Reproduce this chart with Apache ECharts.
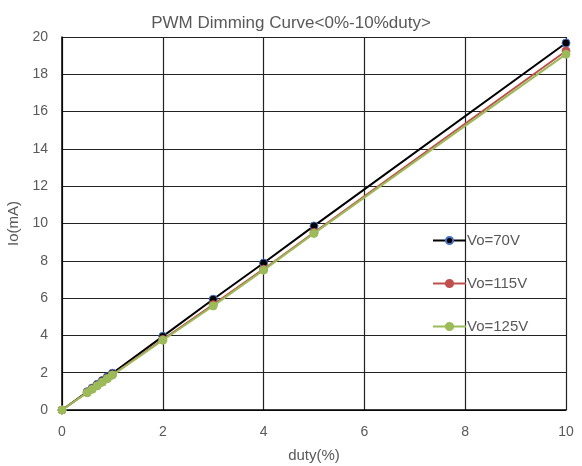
<!DOCTYPE html>
<html><head><meta charset="utf-8">
<script src="https://cdn.jsdelivr.net/npm/echarts@6/dist/echarts.min.js"></script>
<style>html,body{margin:0;padding:0;background:#fff}#c{width:582px;height:466px}</style>
</head><body><div id="c"></div>
<script>
const duty = [0, 0.5, 0.6, 0.7, 0.8, 0.9, 1, 2, 3, 4, 5, 10];
const vo70 = [0, 0.98, 1.18, 1.38, 1.58, 1.78, 1.97, 3.95, 5.94, 7.88, 9.87, 19.68];
const vo115 = [0, 0.94, 1.13, 1.32, 1.51, 1.7, 1.89, 3.78, 5.65, 7.55, 9.52, 19.25];
const vo125 = [0, 0.93, 1.11, 1.3, 1.49, 1.68, 1.87, 3.74, 5.58, 7.5, 9.47, 19.08];
const names = ['Vo=70V', 'Vo=115V', 'Vo=125V'];
const xTicks = [0, 2, 4, 6, 8, 10];
const yTicks = [0, 2, 4, 6, 8, 10, 12, 14, 16, 18, 20];

const pair = arr => duty.map((d, i) => [d, arr[i]]);
const chart = echarts.init(document.getElementById('c'));
const font = 'Liberation Sans, Arial, sans-serif';
function mk(name, data, color, markerBorder) {
  return {
    name, type: 'line', data: pair(data), symbol: 'circle', symbolSize: 8,
    lineStyle: { color, width: 2 },
    itemStyle: { color, borderColor: markerBorder, borderWidth: 1 },
    z: name === 'Vo=70V' ? 3 : (name === 'Vo=115V' ? 4 : 5)
  };
}
chart.setOption({
  animation: false,
  title: { text: 'PWM Dimming Curve<0%-10%duty>', left: 'center', top: 10,
    textStyle: { fontFamily: font, fontSize: 17, fontWeight: 'normal', color: '#595959' } },
  grid: { left: 62, right: 16, top: 37, bottom: 56, containLabel: false, outerBoundsMode: 'none' },
  legend: {
    data: names, orient: 'vertical', left: 432, top: 233, itemGap: 28, padding: 0,
    itemWidth: 33, itemHeight: 9,
    textStyle: { fontFamily: font, fontSize: 15, color: '#595959', padding: [0, 0, 0, -4] }
  },
  xAxis: {
    type: 'value', min: 0, max: 10, interval: 2,
    name: 'duty(%)', nameLocation: 'middle', nameGap: 38,
    nameTextStyle: { fontFamily: font, fontSize: 15, color: '#595959' },
    axisLine: { lineStyle: { color: '#000', width: 1.5 } },
    axisTick: { show: false },
    axisLabel: { fontFamily: font, fontSize: 14, color: '#595959', margin: 15 },
    splitLine: { lineStyle: { color: '#222', width: 1.2 } }
  },
  yAxis: {
    type: 'value', min: 0, max: 20, interval: 2,
    name: 'Io(mA)', nameLocation: 'middle', nameGap: 35,
    nameTextStyle: { fontFamily: font, fontSize: 15, color: '#595959' },
    axisLine: { show: true, lineStyle: { color: '#000', width: 1.5 } },
    axisTick: { show: false },
    axisLabel: { fontFamily: font, fontSize: 14, color: '#595959', margin: 14 },
    splitLine: { lineStyle: { color: '#222', width: 1.2 } }
  },
  series: [
    mk(names[0], vo70, '#000000', '#4472c4'),
    mk(names[1], vo115, '#c0504d', '#c0504d'),
    mk(names[2], vo125, '#9bbb59', '#9bbb59')
  ]
});
</script></body></html>
